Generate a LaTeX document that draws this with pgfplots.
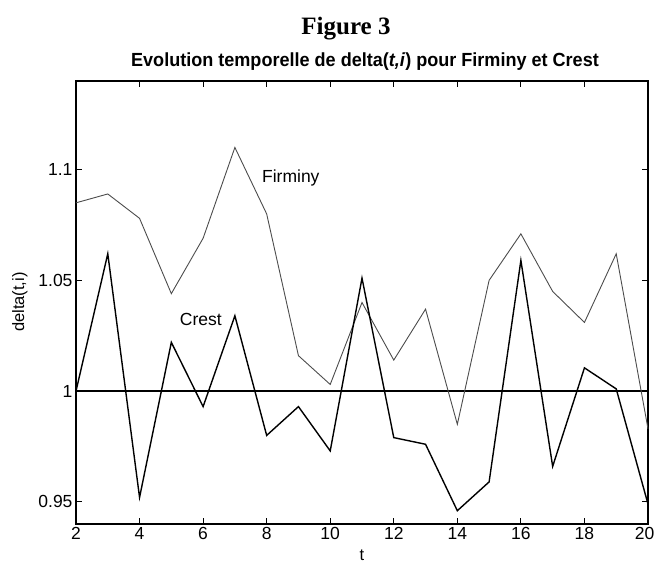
\documentclass[border=0pt]{standalone}
\usepackage{fontspec}
\setmainfont{Liberation Sans}
\newfontfamily\titlefont{Liberation Serif}
\newfontfamily\subfont{Liberation Sans}[FakeStretch=0.95]
\usepackage{pgfplots}
\pgfplotsset{compat=1.18}
\begin{document}
\begin{tikzpicture}[x=1pt,y=1pt]
\useasboundingbox (-76,-42) rectangle (580,524);
\begin{axis}[
  at={(0,0)}, anchor=south west,
  scale only axis, width=572pt, height=443pt,
  xmin=2, xmax=20, ymin=0.94, ymax=1.14,
  xtick={2,4,...,20},
  xticklabels={2,4,6,8,10,12,14,16,18,20\kern7pt},
  ytick={0.95,1,1.05,1.1},
  yticklabels={0.95,1,1.05,1.1},
  tick pos=both, tick align=inside,
  major tick length=6pt,
  axis line style={line width=1.3pt},
  tick style={line width=1pt, black},
  /pgf/number format/assume math mode=true,
  tick label style={font=\fontsize{17.5}{17.5}\selectfont},
  xlabel={t}, ylabel={delta(t,i)},
  label style={font=\fontsize{16.5}{16.5}\selectfont},
  xlabel style={at={(axis description cs:0.5,0)}, anchor=base, yshift=-36pt},
  ylabel style={at={(axis description cs:-0.098,0.501)}, anchor=center},
  clip=false,
]
\addplot[black, line width=1.3pt] coordinates {(2,1) (20,1)};
\addplot[black!70, line width=0.9pt] coordinates {
(2,1.085)(3,1.089)(4,1.078)(5,1.044)(6,1.069)(7,1.110)(8,1.080)(9,1.016)(10,1.003)(11,1.040)(12,1.014)(13,1.037)(14,0.985)(15,1.050)(16,1.071)(17,1.045)(18,1.031)(19,1.062)(20,0.983)};
\addplot[black, line width=1.4pt] coordinates {
(2,1.000)(3,1.062)(4,0.952)(5,1.022)(6,0.993)(7,1.034)(8,0.980)(9,0.993)(10,0.973)(11,1.051)(12,0.979)(13,0.976)(14,0.946)(15,0.959)(16,1.059)(17,0.966)(18,1.0105)(19,1.001)(20,0.949)};
\node[anchor=base, font=\fontsize{17.5}{17.5}\selectfont] at (axis cs:8.76,1.0941) {Firminy};
\node[anchor=base, font=\fontsize{17.5}{17.5}\selectfont] at (axis cs:5.93,1.0297) {Crest};
\end{axis}
\node[anchor=base, font=\titlefont\bfseries\fontsize{25}{25}\selectfont] at (270,489) {Figure 3};
\node[anchor=base, font=\subfont\bfseries\fontsize{19}{19}\selectfont] at (289,457) {Evolution temporelle de delta(\textit{t,i}) pour Firminy et Crest};
\end{tikzpicture}
\end{document}
